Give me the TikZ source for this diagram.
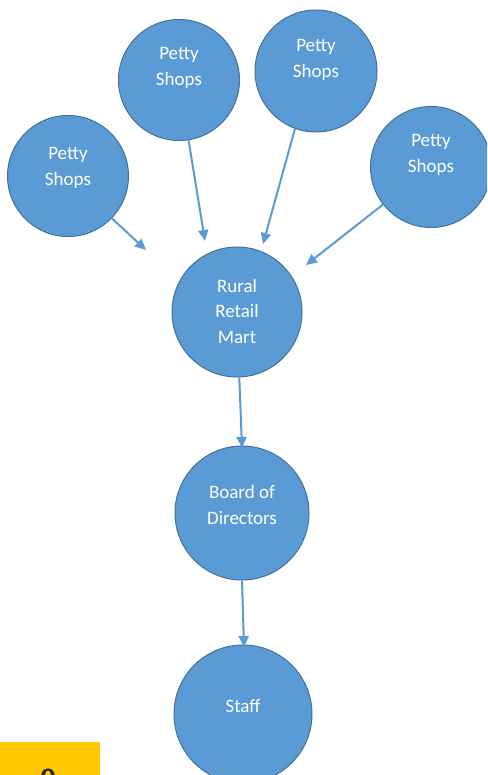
\documentclass[tikz,border=0pt]{standalone}
\usepackage{fontspec}
\setmainfont{Carlito}
\usetikzlibrary{arrows.meta}
\definecolor{cfill}{HTML}{5B9BD5}
\definecolor{cline}{HTML}{41719C}
\definecolor{ybox}{HTML}{FFC800}
\begin{document}
\begin{tikzpicture}[x=1pt,y=-1pt,
  bubble/.style={circle,fill=cfill,draw=cline,line width=1pt,inner sep=0pt},
  btext/.style={text=white,align=center,inner sep=0pt,font=\fontsize{19}{25.5}\selectfont},
  conn/.style={draw=cfill,line width=2pt,-{Triangle[length=11pt,width=10pt]}}]
\useasboundingbox (0,0) rectangle (487,775);
\clip (0,0) rectangle (487,775);
\fill[white] (0,0) rectangle (487,775);
\node[bubble,minimum size=121pt] (p1) at (68,176) {};
\node[bubble,minimum size=121pt] (p2) at (179,80) {};
\node[bubble,minimum size=122pt] (p3) at (316,71) {};
\node[bubble,minimum size=121pt] (p4) at (431,167) {};
\node[bubble,minimum size=130pt] (rrm) at (237,312) {};
\node[bubble,minimum size=134pt] (bod) at (242,513) {};
\node[bubble,minimum size=138pt] (staff) at (243,714) {};
\node[btext] (t1) at (68,168) {Petty\\Shops};
\node[btext] (t2) at (179,68) {Petty\\Shops};
\node[btext] (t3) at (316,60) {Petty\\Shops};
\node[btext] (t4) at (431,155) {Petty\\Shops};
\node[btext] (t5) at (237,311) {Rural\\Retail\\Mart};
\node[btext] (t6) at (242,505) {Board of\\Directors};
\node[btext] (t7) at (243,706) {Staff};
\coordinate (e1) at (146,250);
\coordinate (e2) at (205,241);
\coordinate (e3) at (263,244);
\coordinate (e4) at (306,265);
\coordinate (e5) at (242,448);
\coordinate (e6) at (244,647);
\draw[conn] (p1.-44) -- (e1);
\draw[conn] (p2.-81) -- (e2);
\draw[conn] (p3.-110) -- (e3);
\draw[conn] (p4.-142) -- (e4);
\draw[conn] (rrm.-88) -- (e5);
\draw[conn] (bod.south) -- (e6);
\node[fill=ybox,minimum width=100pt,minimum height=40pt,anchor=north west,inner sep=0pt] (yb) at (0,742) {};
\node[text=black!85,font=\sffamily\bfseries\fontsize{30}{30}\selectfont,anchor=north] (yt) at (48,765) {0};
\end{tikzpicture}
\end{document}
